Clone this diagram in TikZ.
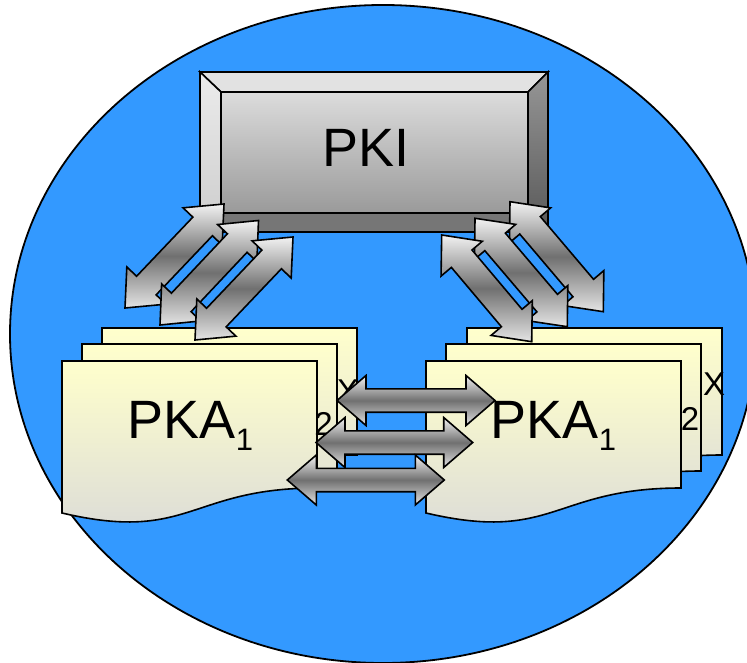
\documentclass[tikz,border=0pt]{standalone}
\usepackage{fontspec}
\setmainfont{Liberation Sans}
\usetikzlibrary{calc}
\definecolor{bgblue}{RGB}{51,153,255}
\definecolor{docTop}{RGB}{255,255,204}
\definecolor{docBot}{RGB}{218,218,216}
\definecolor{arrLight}{RGB}{242,242,242}
\definecolor{arrLightB}{RGB}{228,228,228}
\definecolor{arrDark}{RGB}{112,112,112}
\definecolor{bevTop}{RGB}{226,226,226}
\definecolor{bevLeftT}{RGB}{236,236,236}
\definecolor{bevLeftB}{RGB}{204,204,204}
\definecolor{bevRightT}{RGB}{150,150,150}
\definecolor{bevRightB}{RGB}{88,88,88}
\definecolor{bevBot}{RGB}{118,118,118}
\definecolor{faceT}{RGB}{220,220,220}
\definecolor{faceB}{RGB}{154,154,154}
\tikzset{
  outline/.style={draw=black, line width=1.6pt, line join=miter},
  docsheet/.style={outline, top color=docTop, bottom color=docBot},
  blockarrow/.style={outline, top color=arrLight, bottom color=arrLightB, middle color=arrDark},
  bigtext/.style={font=\fontsize{54}{60}\selectfont, inner sep=0pt},
  tagtext/.style={font=\fontsize{33}{36}\selectfont, inner sep=0pt},
  docpage/.pic={\draw[docsheet] (0,0) -- (255,0) -- (255,127) .. controls (127.5,127) and (127.5,182) .. (0,152) -- cycle;}
}
% #1,#2 end points; #3 head length; #4 head half width; #5 shaft half width
\newcommand\blockdbl[5]{%
  \path ($(#1)!#3!(#2)$) coordinate (ha) ($(#2)!#3!(#1)$) coordinate (hb);
  \draw[blockarrow] (#1) -- ($(ha)!#4!90:(#2)$) -- ($(ha)!#5!90:(#2)$)
    -- ($(hb)!#5!-90:(#1)$) -- ($(hb)!#4!-90:(#1)$) -- (#2)
    -- ($(hb)!#4!90:(#1)$) -- ($(hb)!#5!90:(#1)$)
    -- ($(ha)!#5!-90:(#2)$) -- ($(ha)!#4!-90:(#2)$) -- cycle;}
\begin{document}
\begin{tikzpicture}[x=1pt, y=-1pt]
\clip (0,0) rectangle (747,663);
% background ellipse
\draw[outline, line width=1.8pt, fill=bgblue] (383,334) ellipse [x radius=373pt, y radius=329pt];
% PKI bevel box
\draw[outline, fill=bevTop] (200,72) -- (548,72) -- (528,92) -- (221,92) -- cycle;
\draw[outline, top color=bevLeftT, bottom color=bevLeftB] (200,72) -- (221,92) -- (221,213) -- (200,232) -- cycle;
\draw[outline, top color=bevRightT, bottom color=bevRightB] (548,72) -- (548,232) -- (528,213) -- (528,92) -- cycle;
\draw[outline, fill=bevBot] (200,232) -- (548,232) -- (528,213) -- (221,213) -- cycle;
\draw[outline, top color=faceT, bottom color=faceB] (221,92) rectangle (528,213);
\node[bigtext, anchor=base] (pki) at (366,167) {PKI};
% document stacks
\pic at (102,328) {docpage};
\pic at (82,344) {docpage};
\pic at (62,361) {docpage};
\pic at (467,328) {docpage};
\pic at (446,344) {docpage};
\pic at (426,361) {docpage};
\node[bigtext, anchor=base] (pkaL) at (190.5,438) {PKA\raisebox{-12pt}{\fontsize{31}{31}\selectfont 1}};
\node[bigtext, anchor=base] (pkaR) at (553.5,438) {PKA\raisebox{-12pt}{\fontsize{31}{31}\selectfont 1}};
\node[tagtext, anchor=base] (xL) at (348,402) {X};
\node[tagtext, anchor=base] (twoL) at (323.5,435) {2};
\node[tagtext, anchor=base] (xR) at (714,395) {X};
\node[tagtext, anchor=base] (twoR) at (690,430) {2};
% arrow end points
\coordinate (a1t) at (224,204);   \coordinate (a1b) at (125,308);
\coordinate (a2t) at (258.5,220.5); \coordinate (a2b) at (160,325);
\coordinate (a3t) at (293,237);   \coordinate (a3b) at (195,340);
\coordinate (r1t) at (441.7,235); \coordinate (r1b) at (531.7,341.7);
\coordinate (r2t) at (475,218.3); \coordinate (r2b) at (567.3,326.7);
\coordinate (r3t) at (510,201.7); \coordinate (r3b) at (603.3,311.7);
\coordinate (h1l) at (337,400.5); \coordinate (h1r) at (495,400.5);
\coordinate (h2l) at (316,442.5); \coordinate (h2r) at (472.7,442.5);
\coordinate (h3l) at (287.3,480); \coordinate (h3r) at (444.3,480);
% diagonal arrows
\blockdbl{a1t}{a1b}{31pt}{27pt}{13.5pt}
\blockdbl{a2t}{a2b}{31pt}{27pt}{13.5pt}
\blockdbl{a3t}{a3b}{31pt}{27pt}{13.5pt}
\blockdbl{r3t}{r3b}{31pt}{27pt}{13.5pt}
\blockdbl{r2t}{r2b}{31pt}{27pt}{13.5pt}
\blockdbl{r1t}{r1b}{31pt}{27pt}{13.5pt}
% horizontal arrows
\blockdbl{h1l}{h1r}{29pt}{25pt}{11.7pt}
\blockdbl{h2l}{h2r}{29pt}{25pt}{11.7pt}
\blockdbl{h3l}{h3r}{29pt}{25pt}{11.7pt}
\end{tikzpicture}
\end{document}
